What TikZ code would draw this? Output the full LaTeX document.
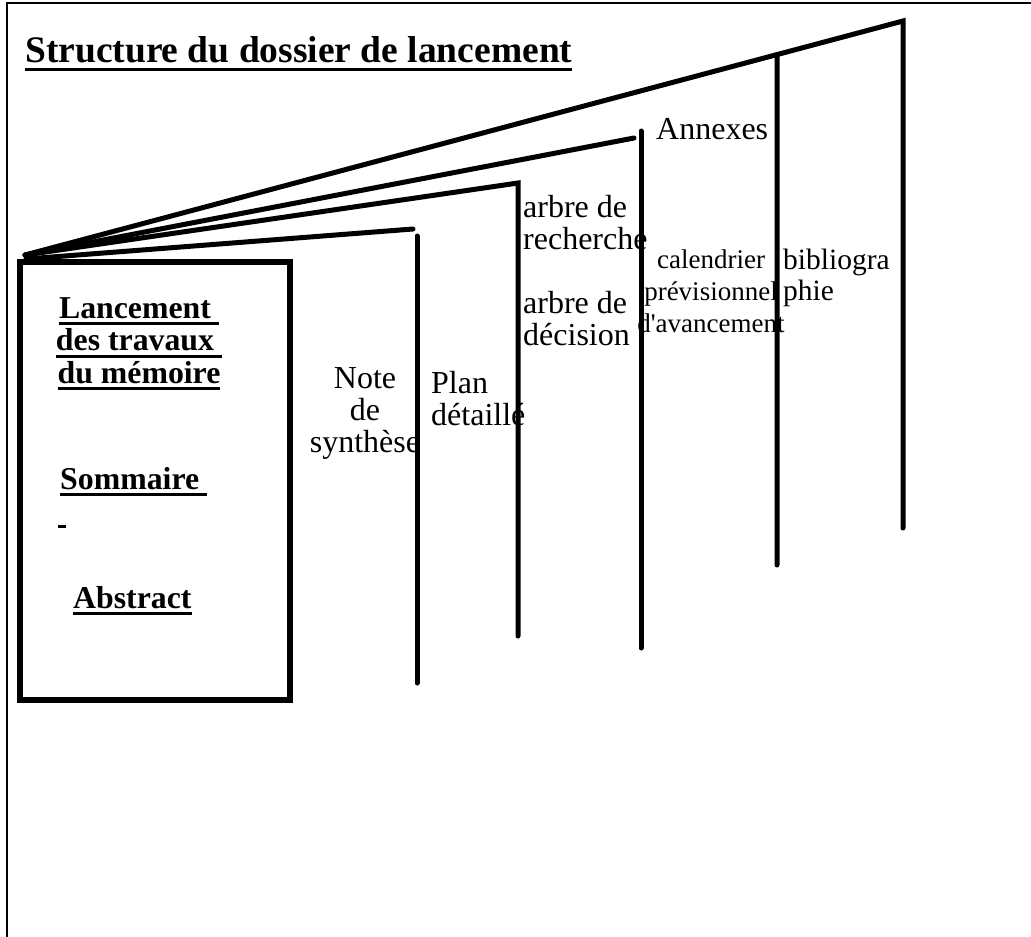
\documentclass[tikz,border=0pt]{standalone}
\usepackage{fontspec}
\setmainfont{Liberation Serif}
\usetikzlibrary{calc}
\newlength{\ulndepth}
\newcommand{\uln}[1]{\setbox0\hbox{#1}\rlap{\vrule width \wd0 height -\ulndepth
    depth \dimexpr\ulndepth+3pt\relax}\box0}
\newcommand{\titlesize}{\fontsize{37.5}{40}\selectfont\bfseries\setlength{\ulndepth}{6pt}}
\newcommand{\coversize}{\fontsize{31.8}{32.5}\selectfont\bfseries\setlength{\ulndepth}{4pt}}
\newcommand{\pagesize}{\fontsize{32}{32}\selectfont}
\newcommand{\calsize}{\fontsize{27}{32}\selectfont}
\newcommand{\bibsize}{\fontsize{29.5}{31}\selectfont}
\tikzstyle{frame} = [draw, line width=2pt]
\tikzstyle{cover} = [rectangle, draw, line width=6pt, minimum width=270pt,
    minimum height=438pt, inner sep=0pt]
\tikzstyle{page} = [draw, line width=5pt, line cap=round]
\tikzstyle{heading} = [font=\titlesize, inner sep=0pt, anchor=base west]
\tikzstyle{covertext} = [font=\coversize, inner sep=0pt, anchor=base west]
\tikzstyle{pagetext} = [font=\pagesize, inner sep=0pt, align=left, anchor=base west]

\begin{document}
\begin{tikzpicture}[x=1pt, y=-1pt]
    \useasboundingbox (0,0) rectangle (1031,937);
    \draw [frame] (7,937) -- (7,3) -- (1031,3);
    % Place nodes (multi-line texts sit on their last baseline)
    \node [heading] (title) at (25,62) {\uln{Structure du dossier de lancement}};
    \node [cover] (cover) at (155,481) {};
    \node [covertext, align=center, anchor=base] (lancement) at (139,383)
        {\uln{Lancement }\\\uln{des travaux }\\\uln{du mémoire}};
    \node [covertext] (sommaire) at (60,489) {\uln{Sommaire }};
    \node [covertext] (tiret) at (58,521) {\uln{\ }};
    \node [covertext] (abstract) at (73,608) {\uln{Abstract}};
    \node [pagetext, align=center, anchor=base] (note) at (365,452) {Note\\de\\synthèse};
    \node [pagetext] (plan) at (431,425) {Plan\\détaillé};
    \node [pagetext] (recherche) at (523,249) {arbre de\\recherche};
    \node [pagetext] (decision) at (523,345) {arbre de\\décision};
    \node [pagetext] (annexes) at (656,139) {Annexes};
    \node [pagetext, font=\calsize, align=center, anchor=base] (calendrier) at (711,332)
        {calendrier\\prévisionnel\\d\textquotesingle avancement};
    \node [pagetext, font=\bibsize] (biblio) at (783,300) {bibliogra\\phie};
    % Page edges
    \coordinate (spine) at (25,255);
    \coordinate (spinelow) at (26,259);
    \coordinate (fold1) at (413,229);
    \coordinate (edge1top) at (417,236);
    \coordinate (edge1bot) at (417,683);
    \coordinate (edge2top) at (518,183);
    \coordinate (edge2bot) at (518,636);
    \coordinate (fold3) at (634,138);
    \coordinate (edge3top) at (641,131);
    \coordinate (edge3bot) at (641,648);
    \coordinate (edge5top) at (903,21);
    \coordinate (edge5bot) at (903,528);
    \coordinate (edge4top) at ($(spine)!0.8565!(edge5top)$);
    \coordinate (edge4bot) at (777,565);
    % Draw edges
    \path [page] (spine) -- (edge5top) -- (edge5bot);
    \path [page] (edge4top) -- (edge4bot);
    \path [page] (spine) -- (fold3);
    \path [page] (edge3top) -- (edge3bot);
    \path [page] (spine) -- (edge2top) -- (edge2bot);
    \path [page] (spinelow) -- (fold1);
    \path [page] (edge1top) -- (edge1bot);
\end{tikzpicture}
\end{document}
